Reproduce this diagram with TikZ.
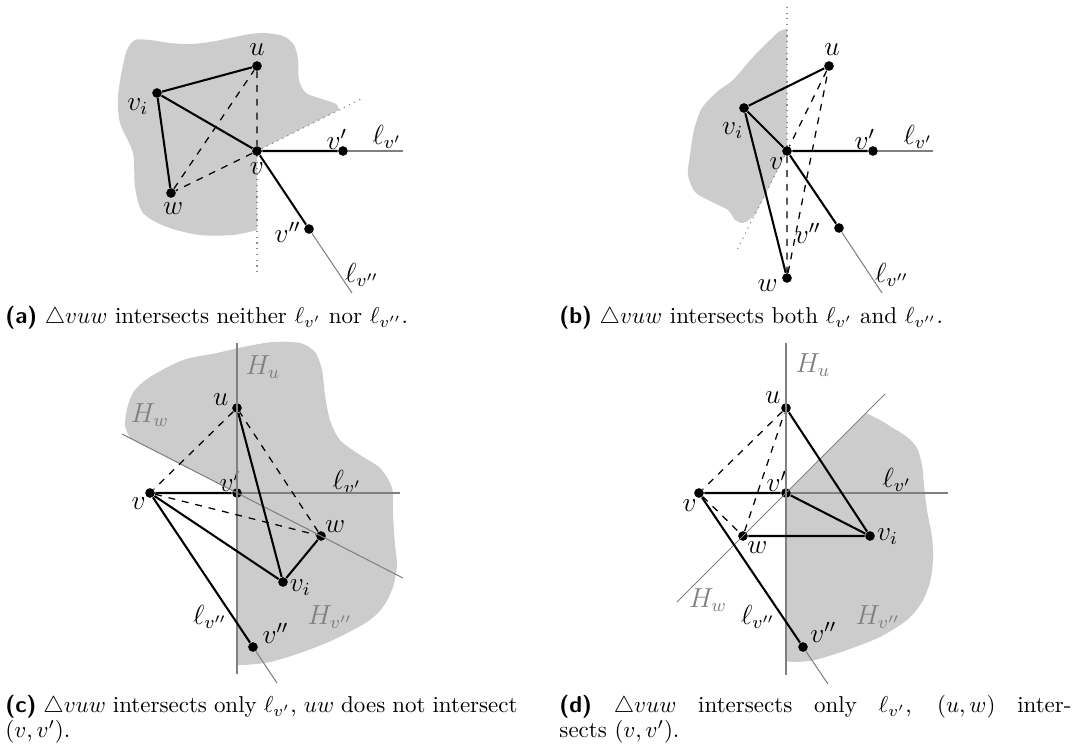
\documentclass[tikz,border=0pt]{standalone}
\usepackage{amssymb, amsmath}
\usetikzlibrary{calc}

\tikzset{
  pt/.style={circle, fill, inner sep=0pt, minimum size=4.2pt},
  lbl/.style={font=\large, anchor=center, inner sep=0pt},
  lab/.style 2 args={label={[lbl, label distance=#1]#2}},
  seg/.style={line width=0.9pt},
  aux/.style={dashed, line width=0.55pt},
  ln/.style={black!50, line width=0.45pt},
  dotln/.style={black!45, dotted, line width=0.5pt},
  region/.style={fill=black!20},
  half/.style={lbl, text=black!50},
  capt/.style={anchor=north west, inner sep=0pt, text width=223pt, align=justify,
    font=\fontsize{10}{9.5}\selectfont},
}
\newcommand{\sublbl}[1]{\lineskiplimit=-5pt\relax{\sffamily\bfseries (#1)}}

\begin{document}
\begin{tikzpicture}[x=0.0153cm, y=-0.0153cm]
\useasboundingbox (0,0) rectangle (1073,752);

% (a)
\fill[region] plot[smooth] coordinates {(339,110) (336,104) (322,99) (306,93) (299,80) (298,60) (294,45) (283,36) (265,33) (250,34) (230,38) (210,42) (190,44) (170,43) (150,40) (135,40) (127,50) (122,70) (118,97) (120,123) (133,153) (135,187) (143,213) (167,227) (200,235) (233,235) (257,230)} -- (257,151) -- cycle;
\node[pt, lab={4.8pt}{90:$u$}] (a-u) at (257,66) {};
\node[pt, lab={8pt}{216:$v_i$}] (a-vi) at (157,93) {};
\node[pt, lab={5.3pt}{270:$v$}] (a-v) at (257,151) {};
\node[pt, lab={3.3pt}{119:$v'$}] (a-v1) at (343,151) {};
\node[pt, lab={4.4pt}{278:$w$}] (a-w) at (171,193) {};
\node[pt, lab={7.1pt}{188:$v''$}] (a-v2) at (309,229) {};
\coordinate (a-l1) at (403,151);
\coordinate (a-l2) at (352,293);
\coordinate (a-d1) at (363,98);
\coordinate (a-d2) at (257,275);
\node[lbl] (a-l1-t) at (387,137) {$\ell_{v'}$};
\node[lbl] (a-l2-t) at (362,275) {$\ell_{v''}$};
\draw[dotln] (a-v) -- (a-d1);
\draw[dotln] (a-v) -- (a-d2);
\draw[ln] (a-v1) -- (a-l1);
\draw[ln] (a-v2) -- (a-l2);
\draw[aux] (a-u) -- (a-v) -- (a-w) -- (a-u);
\draw[seg] (a-u) -- (a-vi) -- (a-w) (a-vi) -- (a-v);
\draw[seg] (a-v2) -- (a-v) -- (a-v1);

% (b)
\fill[region] plot[smooth] coordinates {(787,29) (780,31) (770,40) (753,57) (733,80) (718,91) (702,108) (694,130) (690,155) (688,175) (695,192) (712,202) (728,210) (735,220) (743,223) (750,219) (755,215)} -- (787,151) -- cycle;
\node[pt, lab={4.9pt}{79:$u$}] (b-u) at (829,66) {};
\node[pt, lab={8.6pt}{243:$v_i$}] (b-vi) at (744,108) {};
\node[pt, lab={4.7pt}{230:$v$}] (b-v) at (787,151) {};
\node[pt, lab={3.8pt}{126:$v'$}] (b-v1) at (873,151) {};
\node[pt, lab={11.5pt}{189:$v''$}] (b-v2) at (839,228) {};
\node[pt, lab={6.7pt}{200:$w$}] (b-w) at (787,278) {};
\coordinate (b-l1) at (933,151);
\coordinate (b-l2) at (882,293);
\coordinate (b-d1) at (787,5);
\coordinate (b-d2) at (736,252);
\node[lbl] (b-l1-t) at (918,137) {$\ell_{v'}$};
\node[lbl] (b-l2-t) at (892,275) {$\ell_{v''}$};
\draw[dotln] (b-v) -- (b-d1);
\draw[dotln] (b-v) -- (b-d2);
\draw[ln] (b-v1) -- (b-l1);
\draw[ln] (b-v2) -- (b-l2);
\draw[aux] (b-u) -- (b-v) -- (b-w) -- (b-u);
\draw[seg] (b-u) -- (b-vi) -- (b-w) (b-vi) -- (b-v);
\draw[seg] (b-v2) -- (b-v) -- (b-v1);

% (c)
\fill[region] plot[smooth] coordinates {(130,438) (125,425) (128,405) (135,390) (150,377) (183,360) (217,353) (243,347) (273,342) (300,343) (315,352) (322,370) (325,395) (330,420) (340,440) (360,455) (380,468) (392,488) (393,515) (395,545) (397,565) (393,587) (383,607) (367,622) (333,640) (300,653) (270,662) (245,665) (237,665)} -- (237,493) -- cycle;
\node[pt, lab={5.6pt}{153:$u$}] (c-u) at (237,408) {};
\node[pt, lab={4.3pt}{222:$v$}] (c-v) at (150,493) {};
\node[pt, lab={3.5pt}{122:$v'$}] (c-v1) at (237,493) {};
\node[pt, lab={5.1pt}{33:$w$}] (c-w) at (321,536) {};
\node[pt, lab={5.7pt}{341:$v_i$}] (c-vi) at (283,582) {};
\node[pt, lab={9.2pt}{32:$v''$}] (c-v2) at (253,647) {};
\coordinate (c-l1) at (400,493);
\coordinate (c-l2) at (277,683);
\coordinate (c-hu1) at (237,343);
\coordinate (c-hu2) at (237,674);
\coordinate (c-hw1) at (122,434);
\coordinate (c-hw2) at (403,578);
\node[lbl] (c-l1-t) at (347,482) {$\ell_{v'}$};
\node[lbl] (c-l2-t) at (210,617) {$\ell_{v''}$};
\node[half] (c-hu-t) at (263,367) {$H_u$};
\node[half] (c-hw-t) at (150,415) {$H_w$};
\node[half] (c-hv-t) at (330,617) {$H_{v''}$};
\draw[ln] (c-hu1) -- (c-hu2);
\draw[ln] (c-hw1) -- (c-hw2);
\draw[ln] (c-v1) -- (c-l1);
\draw[ln] (c-v2) -- (c-l2);
\draw[aux] (c-u) -- (c-v) -- (c-w) -- (c-u);
\draw[seg] (c-u) -- (c-vi) -- (c-w) (c-vi) -- (c-v);
\draw[seg] (c-v2) -- (c-v) -- (c-v1);

% (d)
\fill[region] plot[smooth] coordinates {(866,413) (880,420) (893,428) (907,437) (917,448) (922,465) (924,485) (927,510) (932,537) (933,560) (930,582) (922,602) (907,620) (880,637) (847,650) (815,660) (795,662) (786,661)} -- (786,493) -- cycle;
\node[pt, lab={5pt}{142:$u$}] (d-u) at (786,408) {};
\node[pt, lab={4.4pt}{233:$v$}] (d-v) at (699,493) {};
\node[pt, lab={4pt}{129:$v'$}] (d-v1) at (786,493) {};
\node[pt, lab={5.6pt}{322:$w$}] (d-w) at (743,536) {};
\node[pt, lab={5.3pt}{357:$v_i$}] (d-vi) at (870,536) {};
\node[pt, lab={8.5pt}{35:$v''$}] (d-v2) at (803,647) {};
\coordinate (d-l1) at (948,493);
\coordinate (d-l2) at (828,684);
\coordinate (d-hu1) at (786,343);
\coordinate (d-hu2) at (786,675);
\coordinate (d-hw1) at (677,602);
\coordinate (d-hw2) at (885,394);
\node[lbl] (d-l1-t) at (897,480) {$\ell_{v'}$};
\node[lbl] (d-l2-t) at (758,617) {$\ell_{v''}$};
\node[half] (d-hu-t) at (813,365) {$H_u$};
\node[half] (d-hw-t) at (708,600) {$H_w$};
\node[half] (d-hv-t) at (878,617) {$H_{v''}$};
\draw[ln] (d-hu1) -- (d-hu2);
\draw[ln] (d-hw1) -- (d-hw2);
\draw[ln] (d-v1) -- (d-l1);
\draw[ln] (d-v2) -- (d-l2);
\draw[aux] (d-u) -- (d-v) -- (d-w) -- (d-u);
\draw[seg] (d-u) -- (d-vi) -- (d-w) (d-vi) -- (d-v1);
\draw[seg] (d-v2) -- (d-v) -- (d-v1);

% captions
\node[capt] (cap-a) at (5,306) {\sublbl{a} $\triangle vuw$ intersects neither $\ell_{v'}$ nor $\ell_{v''}$.};
\node[capt] (cap-b) at (559,306) {\sublbl{b} $\triangle vuw$ intersects both $\ell_{v'}$ and $\ell_{v''}$.};
\node[capt] (cap-c) at (5,695) {\sublbl{c} $\triangle vuw$ intersects only $\ell_{v'}$, $uw$ does not intersect\newline $(v,v')$.};
\node[capt] (cap-d) at (559,695) {\sublbl{d} $\triangle vuw$ intersects only $\ell_{v'}$, $(u,w)$ inter-\linebreak sects $(v,v')$.};
\end{tikzpicture}
\end{document}
